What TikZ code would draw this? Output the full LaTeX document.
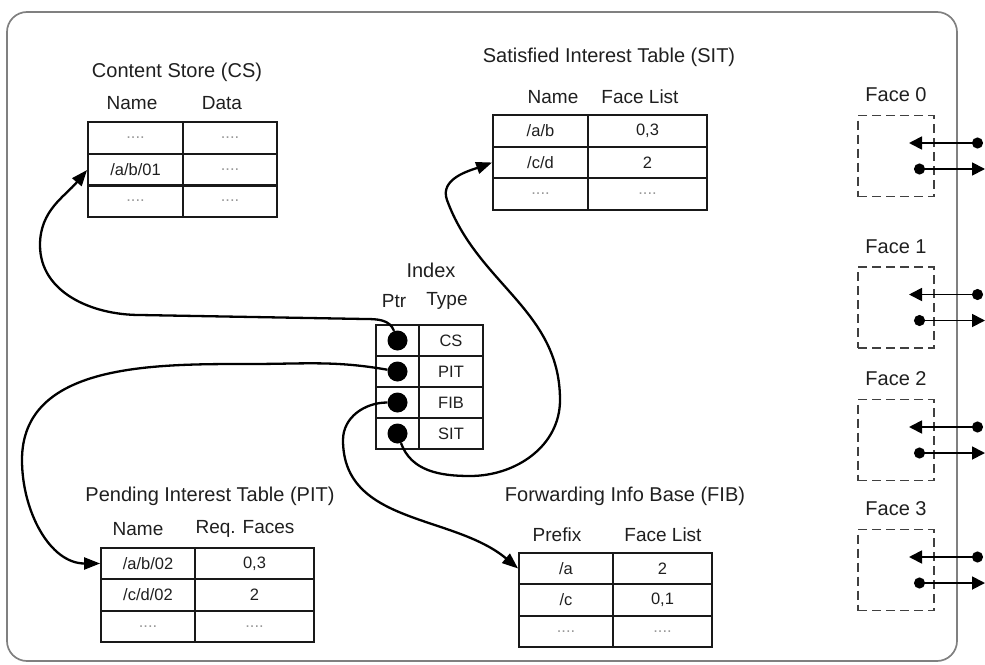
\documentclass[tikz,border=0pt]{standalone}
\usepackage{fontspec}
\setmainfont{Liberation Sans}
\usetikzlibrary{arrows.meta}

\newcommand{\ttlfont}{\fontsize{20}{24}\selectfont}
\newcommand{\hdrfont}{\fontsize{19}{22}\selectfont}
\newcommand{\cellfont}{\fontsize{16.5}{19}\selectfont}
\newcommand{\emptycell}{\textcolor{black!40}{....}}

\tikzset{
  ttl/.style={font=\ttlfont},
  hdr/.style={font=\hdrfont},
  tbl/.style={draw=black!90, line width=1.8pt, inner sep=0pt,
    minimum height=31.5pt, font=\cellfont},
  ptrdot/.style={circle, fill=black, minimum size=20pt, inner sep=0pt},
  facebox/.style={draw=black!75, line width=1.7pt, dash pattern=on 9pt off 5pt,
    minimum width=76pt, minimum height=81pt},
  facearr/.style={line width=1.8pt, {Circle[length=11pt]}-{Triangle[length=13pt,width=13pt]}},
  link/.style={line width=2.3pt, -{Triangle[length=16pt,width=12pt]}}
}

\begin{document}
\begin{tikzpicture}[x=1pt,y=1pt, every node/.style={text=black!88}]
  \useasboundingbox (0,0) rectangle (985,-664);
  \draw[draw=black!50, line width=1.7pt, rounded corners=20pt] (7,-12) rectangle (957,-661);

  % content store
  \node[ttl] at (177,-72) {Content Store (CS)};
  \node[hdr] at (132,-103) {Name};
  \node[hdr] at (222,-103) {Data};
  \node[tbl, minimum width=95pt] (cs-1-1) at (135.5,-138) {\emptycell};
  \node[tbl, minimum width=94pt] (cs-1-2) at (230,-138) {\emptycell};
  \node[tbl, minimum width=95pt] (cs-2-1) at (135.5,-170) {/a/b/01};
  \node[tbl, minimum width=94pt] (cs-2-2) at (230,-170) {\emptycell};
  \node[tbl, minimum width=95pt] (cs-3-1) at (135.5,-201) {\emptycell};
  \node[tbl, minimum width=94pt] (cs-3-2) at (230,-201) {\emptycell};

  % satisfied interest table
  \node[ttl] at (609,-57) {Satisfied Interest Table (SIT)};
  \node[hdr] at (553,-97) {Name};
  \node[hdr] at (640,-97) {Face List};
  \node[tbl, minimum width=95pt] (sit-1-1) at (540.5,-131) {/a/b};
  \node[tbl, minimum width=119pt] (sit-1-2) at (647.5,-131) {0,3};
  \node[tbl, minimum width=95pt] (sit-2-1) at (540.5,-162.5) {/c/d};
  \node[tbl, minimum width=119pt] (sit-2-2) at (647.5,-162.5) {2};
  \node[tbl, minimum width=95pt] (sit-3-1) at (540.5,-194) {\emptycell};
  \node[tbl, minimum width=119pt] (sit-3-2) at (647.5,-194) {\emptycell};

  % pending interest table
  \node[ttl] at (210,-496) {Pending Interest Table (PIT)};
  \node[hdr] at (138,-529) {Name};
  \node[hdr] at (245,-529) {Req. Faces};
  \node[tbl, minimum width=94pt] (pit-1-1) at (148,-563.5) {/a/b/02};
  \node[tbl, minimum width=119pt] (pit-1-2) at (254.5,-563.5) {0,3};
  \node[tbl, minimum width=94pt] (pit-2-1) at (148,-595) {/c/d/02};
  \node[tbl, minimum width=119pt] (pit-2-2) at (254.5,-595) {2};
  \node[tbl, minimum width=94pt] (pit-3-1) at (148,-626.5) {\emptycell};
  \node[tbl, minimum width=119pt] (pit-3-2) at (254.5,-626.5) {\emptycell};

  % forwarding info base
  \node[ttl] at (625,-496) {Forwarding Info Base (FIB)};
  \node[hdr] at (557,-535) {Prefix};
  \node[hdr] at (663,-535) {Face List};
  \node[tbl, minimum width=94pt] (fib-1-1) at (566,-568.5) {/a};
  \node[tbl, minimum width=99pt] (fib-1-2) at (662.5,-568.5) {2};
  \node[tbl, minimum width=94pt] (fib-2-1) at (566,-600) {/c};
  \node[tbl, minimum width=99pt] (fib-2-2) at (662.5,-600) {0,1};
  \node[tbl, minimum width=94pt] (fib-3-1) at (566,-631.5) {\emptycell};
  \node[tbl, minimum width=99pt] (fib-3-2) at (662.5,-631.5) {\emptycell};

  % index
  \node[ttl] at (431,-270) {Index};
  \node[hdr] at (394,-301) {Ptr};
  \node[hdr] at (447,-301) {Type};
  \foreach \t/\r/\lab in {cs/340.5/CS, pit/371.5/PIT, fib/402.5/FIB, sit/433.5/SIT}{
    \node[tbl, minimum width=43pt, minimum height=31pt] (i-\t) at (397.5,-\r) {};
    \node[tbl, minimum width=64pt, minimum height=31pt] (t-\t) at (451,-\r) {\lab};
    \node[ptrdot] (p-\t) at (397.5,-\r) {};
  }

  % faces
  \foreach \n/\y in {0/156, 1/307.5, 2/440, 3/570}{
    \node[facebox] (face\n) at (896,-\y) {};
    \node[ttl] at (896,-\y+61) {Face \n};
    \coordinate (in\n) at (909,-\y+13);
    \coordinate (rx\n) at (983,-\y+13);
    \coordinate (tx\n) at (914,-\y-13);
    \coordinate (out\n) at (985,-\y-13);
    \draw[facearr] (rx\n) -- (in\n);
    \draw[facearr] (tx\n) -- (out\n);
  }

  % pointers
  \draw[link] (p-cs) to[out=110,in=0] (365,-319) -- (140,-315)
    to[out=180,in=-90] (40,-245) to[out=90,in=-130] (cs-2-1.west);
  \draw[link] (p-pit) to[out=170,in=0] (250,-364) to[out=180,in=90] (22,-460)
    to[out=-90,in=180] (pit-1-1.west);
  \draw[link] (p-fib) to[out=180,in=90] (343,-440) to[out=-90,in=140] (fib-1-1.west);
  \draw[link] (p-sit) to[out=-70,in=180] (470,-476) to[out=0,in=-90] (560,-400)
    to[out=90,in=-70] (447,-200) to[out=110,in=200] (sit-2-1.west);
\end{tikzpicture}
\end{document}
